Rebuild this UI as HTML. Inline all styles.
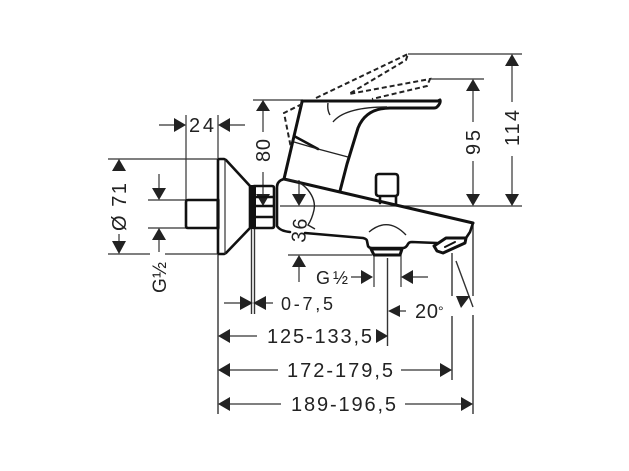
<!DOCTYPE html>
<html><head><meta charset="utf-8"><style>
html,body{margin:0;padding:0;background:#fff;width:629px;height:471px;overflow:hidden}
svg{display:block}
text{font-family:"Liberation Sans",sans-serif;font-size:20px;fill:#222}
.t{stroke:#333;stroke-width:1.2;fill:none}
.d{stroke:#222;stroke-width:2;fill:none;stroke-dasharray:5 3}
.k{stroke:#111;stroke-width:2.6;fill:none;stroke-linejoin:round;stroke-linecap:round}
.m{stroke:#222;stroke-width:1.4;fill:none}
.a{fill:#222}
</style></head><body>
<svg width="629" height="471" viewBox="0 0 629 471" xmlns="http://www.w3.org/2000/svg">
<!-- dimension lines -->
<path class="t" d="M186 115V200M218 115V159M159 125H175M230 125H245M108 159H217M108 254H150M165 254H217M119 234V241M159 174V188M159 240V252M148 200H186M148 228H186M263 111V132M263 172V194M253 100H303M408 54H522M430 79H484M512 66V102M512 156V194M473 91V122M473 161V194M280 206H522M299 180V194M288 255H372M299 267V282M351 277H361M413 277H428M374 255V287M401 255V287M400 311H406M224 303H240M266 303H273M230 336H257M230 370H278M401 370H441M230 404H281M405 404H461"/>
<path class="t" style="stroke-width:1.4" d="M218 254V414M251.500 229V314M254.500 229V314M387.500 258V346M452 253V296M452 316V380M473 224V296M473 315V414M456 261L473 307"/>
<!-- arrowheads -->
<path class="a" d="M186 125l-12-7v14zM218 125l12-7v14zM119 159l-7 12h14zM119 254l-7-13h14zM159 200l-7-12h14zM159 228l-7 12h14zM263 100l-7 11h14zM263 206l-7-12h14zM299 206l-7-12h14zM512 54l-7 12h14zM512 206l-7-12h14zM473 79l-7 12h14zM473 206l-7-12h14zM299 255l-7 12h14zM373 277l-12-7v14zM401 277l12-7v14zM388 311l12-6v12zM456 296L470 296L461 308zM253 303l-13-7v14zM253 303l13-7v14zM218 336l12-7v14zM388 336l-12-7v14zM218 370l12-7v14zM452 370l-12-7v14zM218 404l12-7v14zM473 404l-12-7v14z"/>
<!-- labels -->
<text x="189" y="132" textLength="25" lengthAdjust="spacing">24</text>
<text transform="translate(126,231) rotate(-90)" textLength="48" lengthAdjust="spacing">Ø 71</text>
<text transform="translate(166,293) rotate(-90)" style="font-size:19px" textLength="31" lengthAdjust="spacing">G ½</text>
<text transform="translate(270,162) rotate(-90)" textLength="23" lengthAdjust="spacing">80</text>
<text transform="translate(305,243) rotate(-85)" textLength="24" lengthAdjust="spacing">36</text>
<text transform="translate(480,155) rotate(-90)" textLength="25" lengthAdjust="spacing">95</text>
<text transform="translate(519,146) rotate(-90)" textLength="36" lengthAdjust="spacing">114</text>
<text x="316" y="284" style="font-size:18px" textLength="32" lengthAdjust="spacing">G ½</text>
<text x="281" y="310" style="font-size:18px" textLength="52" lengthAdjust="spacing">0-7,5</text>
<text x="415" y="318" textLength="23" lengthAdjust="spacing">20</text>
<text x="438" y="316" style="font-size:14px">°</text>
<text x="267" y="343" textLength="105" lengthAdjust="spacing">125-133,5</text>
<text x="287" y="377" textLength="106" lengthAdjust="spacing">172-179,5</text>
<text x="291" y="411" textLength="105" lengthAdjust="spacing">189-196,5</text>
<!-- wall flange and connection -->
<path class="k" d="M186 202Q186 200 188 200H217M217 228H188Q186 228 186 226V202"/>
<path class="k" style="stroke-width:3.200" d="M218 228V200"/>
<path class="k" d="M218 160Q218 159 220 159H224L226 160L250 186V228L226 253L224 254H220Q218 254 218 253Z"/>
<path class="t" d="M225 160V254"/>
<path class="k" d="M254 186H272Q274 186 274 188V226Q274 228 272 228H254"/>
<rect x="251" y="185" width="5" height="44" fill="#111"/>
<path class="k" d="M255 197H273M255 206H273M255 217H273"/>
<!-- body -->
<path class="k" style="stroke-width:3" d="M284 179L473 223"/>
<path class="k" d="M284 179Q277 181 277 187V226Q280 231 290 232M305 233L363 238Q367 239 367 241L368 246Q369 248 372 248H403Q406 248 408 244Q409 242 412 242L437 243M473 223L470 232L466 238"/>
<path class="m" d="M285 180Q299 179 308 190Q316 200 314 210Q312 219 308 225L315 229"/>
<!-- spout outlet -->
<path class="k" style="stroke-width:3" d="M371 249H402L400 255H374Z"/>
<path class="m" d="M369 232Q388 216 406 235"/>
<path class="k" style="stroke-width:3" d="M434 246L437 251L443 253L465 243L466 238L446 238Z"/>
<path class="k" style="stroke-width:2" d="M445 247L455 242"/>
<!-- diverter button -->
<path class="k" d="M376 177Q376 174 379 174H395Q398 174 398 177V193Q398 196 395 196H379Q376 196 376 193ZM380 197V203M396 197V205"/>
<!-- lever -->
<path class="k" style="stroke-width:3" d="M302 101H438L440 100Q441 103 437 107Q436 108 434 108H390Q366 108 358 128L347 164L340 191M302 102L284 179"/>
<path class="k" d="M294 136L318 149"/>
<path class="m" d="M294 142L318 149L348 157M333 122Q345 107 387 107M328 103Q327 110 330 115"/>
<!-- dashed raised lever -->
<path class="d" d="M316 98L408 54L406 60L349 94L430 79L427 86L372 99M302 104L284 113L291 148"/>
</svg>
</body></html>
